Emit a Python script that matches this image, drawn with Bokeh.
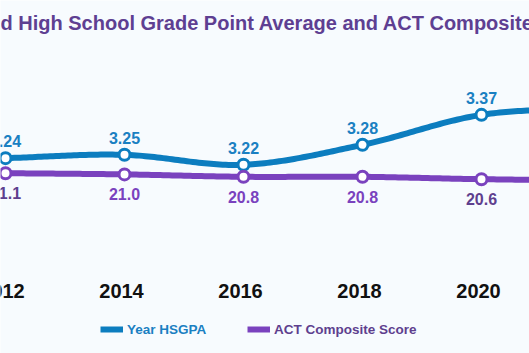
import numpy as np
from bokeh.plotting import figure
from bokeh.models import Range1d, Label, Legend, LegendItem, ColumnDataSource
from bokeh.embed import file_html
from bokeh.resources import INLINE

# ---- data ----
years = [2012, 2014, 2016, 2018, 2020, 2022]
hsgpa = [3.24, 3.25, 3.22, 3.28, 3.37, 3.39]
act = [21.1, 21.0, 20.8, 20.8, 20.6, 20.5]
tick_years = [2012, 2014, 2016, 2018, 2020, 2022]
series_names = ["Year HSGPA", "ACT Composite Score"]
title_text = "d High School Grade Point Average and ACT Composite Scores"

# ---- styles ----
BG = "#f7fbfe"
BLUE = "#0c7dbf"
BLUE_TXT = "#1a80c2"
PURPLE = "#7a42be"
PURPLE_DARK = "#5e3f8e"
TITLE_C = "#5e3f92"
FONT = "Liberation Sans"

W, H = 529, 353
PX_PER_YEAR = 59.5
X0 = years[0] - 5 / PX_PER_YEAR
G_PX = 333.0   # px per GPA unit
A_PX = 12.0    # px per ACT unit
G_TOP = 3.22 + 164.3 / G_PX
A_TOP = 21.1 + 172.7 / A_PX


def smooth(xs, ys, n=40):
    xs = np.asarray(xs, float)
    ys = np.asarray(ys, float)
    k = len(xs)
    m = np.zeros(k)
    for i in range(k):
        if i == 0:
            m[i] = (ys[1] - ys[0]) / (xs[1] - xs[0])
        elif i == k - 1:
            m[i] = (ys[-1] - ys[-2]) / (xs[-1] - xs[-2])
        else:
            m[i] = (ys[i + 1] - ys[i - 1]) / (xs[i + 1] - xs[i - 1])
    ox, oy = [], []
    for i in range(k - 1):
        h = xs[i + 1] - xs[i]
        t = np.linspace(0, 1, n, endpoint=(i == k - 2))
        h00 = 2 * t**3 - 3 * t**2 + 1
        h10 = t**3 - 2 * t**2 + t
        h01 = -2 * t**3 + 3 * t**2
        h11 = t**3 - t**2
        ox.extend(xs[i] + t * h)
        oy.extend(h00 * ys[i] + h10 * h * m[i] + h01 * ys[i + 1] + h11 * h * m[i + 1])
    return ox, oy


p = figure(width=W, height=H, output_backend="svg", toolbar_location=None,
           x_range=Range1d(X0, X0 + W / PX_PER_YEAR),
           y_range=Range1d(G_TOP - H / G_PX, G_TOP),
           min_border=0, x_axis_location=None, y_axis_location=None)
p.extra_y_ranges = {"act": Range1d(A_TOP - H / A_PX, A_TOP)}

p.background_fill_color = BG
p.border_fill_color = BG
p.outline_line_color = None
p.grid.visible = False

# lines
hx, hy = smooth(years, hsgpa)
ax, ay = smooth(years, act)
r_h = p.line(hx, hy, line_color=BLUE, line_width=6, line_cap="butt", line_join="round")
r_a = p.line(ax, ay, line_color=PURPLE, line_width=6, line_cap="butt", line_join="round",
             y_range_name="act")

# markers
p.scatter(years, hsgpa, size=11, fill_color="white", line_color=BLUE, line_width=3)
p.scatter(years, act, size=11, fill_color="white", line_color=PURPLE, line_width=3,
          y_range_name="act")

# data labels
src_h = ColumnDataSource(dict(x=years, y=hsgpa, t=[f"{v:.2f}" for v in hsgpa]))
p.text(x="x", y="y", text="t", source=src_h, text_align="center", text_baseline="middle",
       y_offset=-17, text_font_size="16px", text_font_style="bold", text_color=BLUE_TXT,
       text_font={"value": FONT})
act_colors = [PURPLE_DARK, PURPLE, PURPLE, PURPLE, PURPLE_DARK, PURPLE_DARK]
src_a = ColumnDataSource(dict(x=years, y=act, t=[f"{v:.1f}" for v in act], c=act_colors))
p.text(x="x", y="y", text="t", source=src_a, text_align="center", text_baseline="middle",
       y_offset=20, text_font_size="16px", text_font_style="bold", text_color="c",
       text_font={"value": FONT}, y_range_name="act")

# category (year) labels along the bottom
src_t = ColumnDataSource(dict(x=tick_years, t=[str(y) for y in tick_years],
                              y=[G_TOP - 290 / G_PX] * len(tick_years)))
p.text(x="x", y="y", text="t", source=src_t, text_align="center", text_baseline="middle",
       x_offset=-3, text_font_size="20px", text_font_style="bold", text_color="#111111",
       text_font={"value": FONT})

# title
p.add_layout(Label(x=X0, y=G_TOP - 22 / G_PX, text=title_text,
                   text_font=FONT, text_font_size="20px", text_font_style="bold",
                   text_color=TITLE_C, text_align="left", text_baseline="alphabetic"))

# legends (two, so each label keeps its own colour)
for name, rend, col, xloc in [(series_names[0], r_h, BLUE_TXT, 100),
                              (series_names[1], r_a, PURPLE_DARK, 247)]:
    leg = Legend(items=[LegendItem(label=name, renderers=[rend])],
                 location=(xloc, 16), orientation="horizontal",
                 background_fill_alpha=0, border_line_color=None,
                 label_text_color=col, label_text_font=FONT,
                 label_text_font_size="13.5px", label_text_font_style="bold",
                 glyph_width=23, glyph_height=16, label_height=16,
                 label_standoff=4, padding=0, margin=0)
    p.add_layout(leg)

open("out.html", "w").write(file_html(p, INLINE))
